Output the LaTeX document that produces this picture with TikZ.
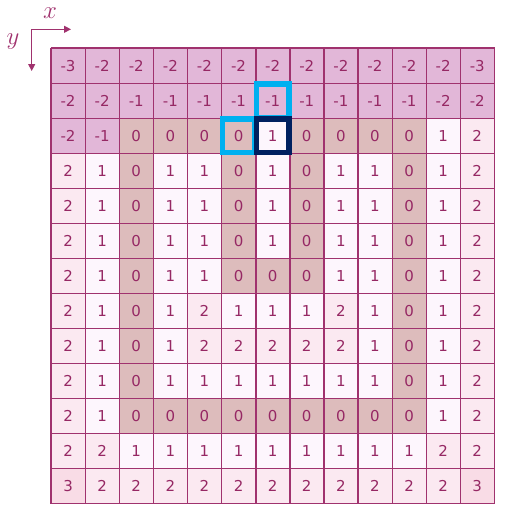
\documentclass[tikz,border=0pt]{standalone}
\usepackage{fontspec}
\usepackage{xcolor}
\usepackage{tikz}
\newfontfamily\cellfont{DejaVu Sans}
\usetikzlibrary{positioning,calc,arrows.meta}

\definecolor{gridc}{RGB}{160,50,110}
\definecolor{textc}{RGB}{150,40,100}
\definecolor{negc}{RGB}{226,183,216}
\definecolor{zeroc}{RGB}{221,188,188}
\definecolor{onec}{RGB}{253,246,253}
\definecolor{twoc}{RGB}{251,233,241}
\definecolor{threec}{RGB}{249,220,230}
\definecolor{hlcyan}{RGB}{0,176,240}
\definecolor{hlnavy}{RGB}{0,32,96}

\tikzset{
    cell/.style={rectangle, inner sep=0pt,
        minimum width=34.1pt, minimum height=35pt, text=textc,
        font=\cellfont\fontsize{15}{15}\selectfont},
    v-3/.style={fill=negc}, v-2/.style={fill=negc}, v-1/.style={fill=negc},
    v0/.style={fill=zeroc}, v1/.style={fill=onec},
    v2/.style={fill=twoc}, v3/.style={fill=threec},
    gridline/.style={gridc, line width=1.4pt},
    hlbox/.style={line width=5.5pt},
    axis/.style={gridc, line width=1.2pt, -{Triangle[length=7pt,width=7pt]}},
    axlabel/.style={text=gridc, inner sep=0pt, font=\fontsize{25}{25}\selectfont}
}

\begin{document}
\begin{tikzpicture}[x=1pt,y=-1pt]
    \useasboundingbox (0,0) rectangle (517,520);

    % Cells
    \foreach \row [count=\r] in {
        {-3,-2,-2,-2,-2,-2,-2,-2,-2,-2,-2,-2,-3},
        {-2,-2,-1,-1,-1,-1,-1,-1,-1,-1,-1,-2,-2},
        {-2,-1,0,0,0,0,1,0,0,0,0,1,2},
        {2,1,0,1,1,0,1,0,1,1,0,1,2},
        {2,1,0,1,1,0,1,0,1,1,0,1,2},
        {2,1,0,1,1,0,1,0,1,1,0,1,2},
        {2,1,0,1,1,0,0,0,1,1,0,1,2},
        {2,1,0,1,2,1,1,1,2,1,0,1,2},
        {2,1,0,1,2,2,2,2,2,1,0,1,2},
        {2,1,0,1,1,1,1,1,1,1,0,1,2},
        {2,1,0,0,0,0,0,0,0,0,0,1,2},
        {2,2,1,1,1,1,1,1,1,1,1,2,2},
        {3,2,2,2,2,2,2,2,2,2,2,2,3}} {
        \foreach \v [count=\c] in \row {
            \node[cell, v\v] (c-\r-\c) at ({51+(\c-0.5)*34.1}, {48.3+(\r-0.5)*35}) {\v};
        }
    }

    % Grid lines
    \foreach \i in {1,...,13} {
        \draw[gridline] (c-1-\i.north east) -- (c-13-\i.south east);
        \draw[gridline] (c-\i-1.south west) -- (c-\i-13.south east);
    }
    \draw[gridline] (c-1-1.north west) -- (c-13-1.south west);
    \draw[gridline] (c-1-1.north west) -- (c-1-13.north east);

    % Highlights
    \draw[hlbox, hlcyan] ([xshift=1pt,yshift=-1pt]c-2-7.north west) rectangle ([xshift=-1pt,yshift=1pt]c-2-7.south east);
    \draw[hlbox, hlcyan] ([xshift=1pt,yshift=-1pt]c-3-6.north west) rectangle ([xshift=-1pt,yshift=1pt]c-3-6.south east);
    \draw[hlbox, hlnavy] ([xshift=1pt,yshift=-1pt]c-3-7.north west) rectangle ([xshift=-1pt,yshift=1pt]c-3-7.south east);

    % Axes
    \coordinate (origin) at (31.7,29.3);
    \coordinate (xend) at (71,29.3);
    \coordinate (yend) at (31.7,71);
    \draw[axis] (origin) -- (xend);
    \draw[axis] (origin) -- (yend);
    \node[axlabel] (xlab) at (50,13) {$x$};
    \node[axlabel] (ylab) at (13,42) {$y$};
\end{tikzpicture}
\end{document}
